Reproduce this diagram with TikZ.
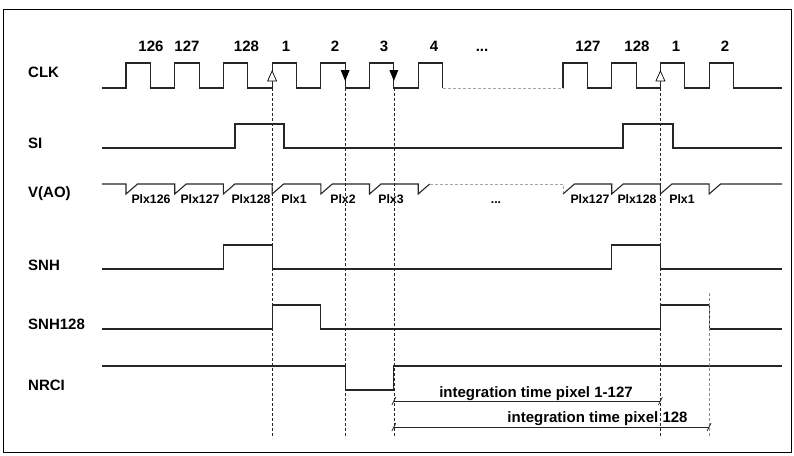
\documentclass[tikz,border=0pt]{standalone}
\usepackage{fontspec}
\setmainfont{Liberation Sans}
\usepackage{tikz}
\usetikzlibrary{positioning}

\begin{document}
\begin{tikzpicture}[x=1pt, y=-1pt,
    name style/.style={anchor=base west, font=\fontsize{15}{18}\selectfont\bfseries, inner sep=0pt},
    count style/.style={anchor=base, font=\fontsize{15}{18}\selectfont\bfseries, inner sep=0pt},
    pix style/.style={anchor=base, font=\fontsize{12.3}{14}\selectfont\bfseries, inner sep=0pt},
    span style/.style={anchor=base, font=\fontsize{15}{18}\selectfont\bfseries, inner sep=0pt},
    signal style/.style={line width=1.1pt, black!85, line join=miter},
    gap style/.style={densely dashed, line width=0.6pt, black!35},
    guide style/.style={dash pattern=on 3pt off 2pt, line width=0.7pt, black!85},
    span line/.style={line width=0.7pt, black!85}
]
\useasboundingbox (0,0) rectangle (794,455);
\draw[line width=1pt] (3,9) rectangle (791,452);

% signal names
\node[name style] (clk) at (28,77) {CLK};
\node[name style] (si) at (28,148) {SI};
\node[name style] (vao) at (28,197) {V(AO)};
\node[name style] (snh) at (28,270) {SNH};
\node[name style] (snh128) at (28,329) {SNH128};
\node[name style] (nrci) at (28,390.5) {NRCI};

% clock counts
\foreach \x/\t [count=\i] in {151/126, 187/127, 246.5/128, 286/1, 335/2, 384/3, 434/4,
                              482/{...}, 588/127, 637/128, 676/1, 725/2}
    \node[count style] (n\i) at (\x,51.7) {\t};

% CLK
\draw[signal style] (102,88) \foreach \r in {126,174.7,223.4,272.1,320.8,369.5,418.2}
    { -- (\r,88) -- (\r,63) -- (\r+24.35,63) -- (\r+24.35,88) };
\draw[gap style] (442.55,88) -- (563,88);
\draw[signal style] (563,88) \foreach \r in {563,611.7,660.4,709.1}
    { -- (\r,88) -- (\r,63) -- (\r+24.35,63) -- (\r+24.35,88) } -- (782,88);

% SI
\draw[signal style] (102,148) -- (235,148) -- (235,124) -- (284,124) -- (284,148)
    -- (623,148) -- (623,124) -- (673,124) -- (673,148) -- (782,148);

% V(AO)
\draw[signal style] (102,184) \foreach \r in {126,174.7,223.4,272.1,320.8,369.5,418.2}
    { -- (\r,184) -- (\r,194) -- (\r+11.5,184) };
\draw[gap style] (429.7,184) -- (563,184) -- (563,194);
\draw[signal style] (563,194) -- (574.5,184) \foreach \r in {611.7,660.4,709.1}
    { -- (\r,184) -- (\r,194) -- (\r+11.5,184) } -- (782,184);
\foreach \x/\t [count=\i] in {151/Plx126, 200/Plx127, 251/Plx128, 294/Plx1, 343/Plx2,
                              391/Plx3, 496/{...}, 590/Plx127, 637/Plx128, 682/Plx1}
    \node[pix style] (p\i) at (\x,203) {\t};

% SNH
\draw[signal style] (102,269) -- (223.4,269) -- (223.4,245) -- (272.1,245) -- (272.1,269)
    -- (611.7,269) -- (611.7,245) -- (660.4,245) -- (660.4,269) -- (782,269);

% SNH128
\draw[signal style] (102,329) -- (272.1,329) -- (272.1,305) -- (320.8,305) -- (320.8,329)
    -- (660.4,329) -- (660.4,305) -- (709.1,305) -- (709.1,329) -- (782,329);

% NRCI
\draw[signal style] (102,366) -- (345.15,366) -- (345.15,390) -- (393.85,390)
    -- (393.85,366) -- (782,366);

% guides
\foreach \x in {272.1,345.15,393.85,660.4}
    \draw[guide style] (\x,88) -- (\x,438);
\draw[guide style, black!45] (709.1,293) -- (709.1,438);

% edge markers
\draw[line width=0.7pt, fill=white] (272.1,71) -- (267.6,81) -- (276.6,81) -- cycle;
\draw[line width=0.7pt, fill=white] (660.4,71) -- (655.9,81) -- (664.9,81) -- cycle;
\fill (340.65,70) -- (349.65,70) -- (345.15,81) -- cycle;
\fill (389.35,70) -- (398.35,70) -- (393.85,81) -- cycle;

% integration times
\coordinate (ia) at (393.85,401);
\coordinate (ib) at (660.4,401);
\coordinate (ic) at (393.85,427);
\coordinate (id) at (709.1,427);
\draw[span line] (ia) -- (ib);
\draw[span line] (ic) -- (id);
\foreach \c in {ia,ib,ic,id}
    \draw[span line] ([shift={(-2,4)}]\c) -- ([shift={(2,-4)}]\c);
\node[span style] (t1) at (536,397) {integration time pixel 1-127};
\node[span style] (t2) at (597.5,422) {integration time pixel 128};
\end{tikzpicture}
\end{document}
